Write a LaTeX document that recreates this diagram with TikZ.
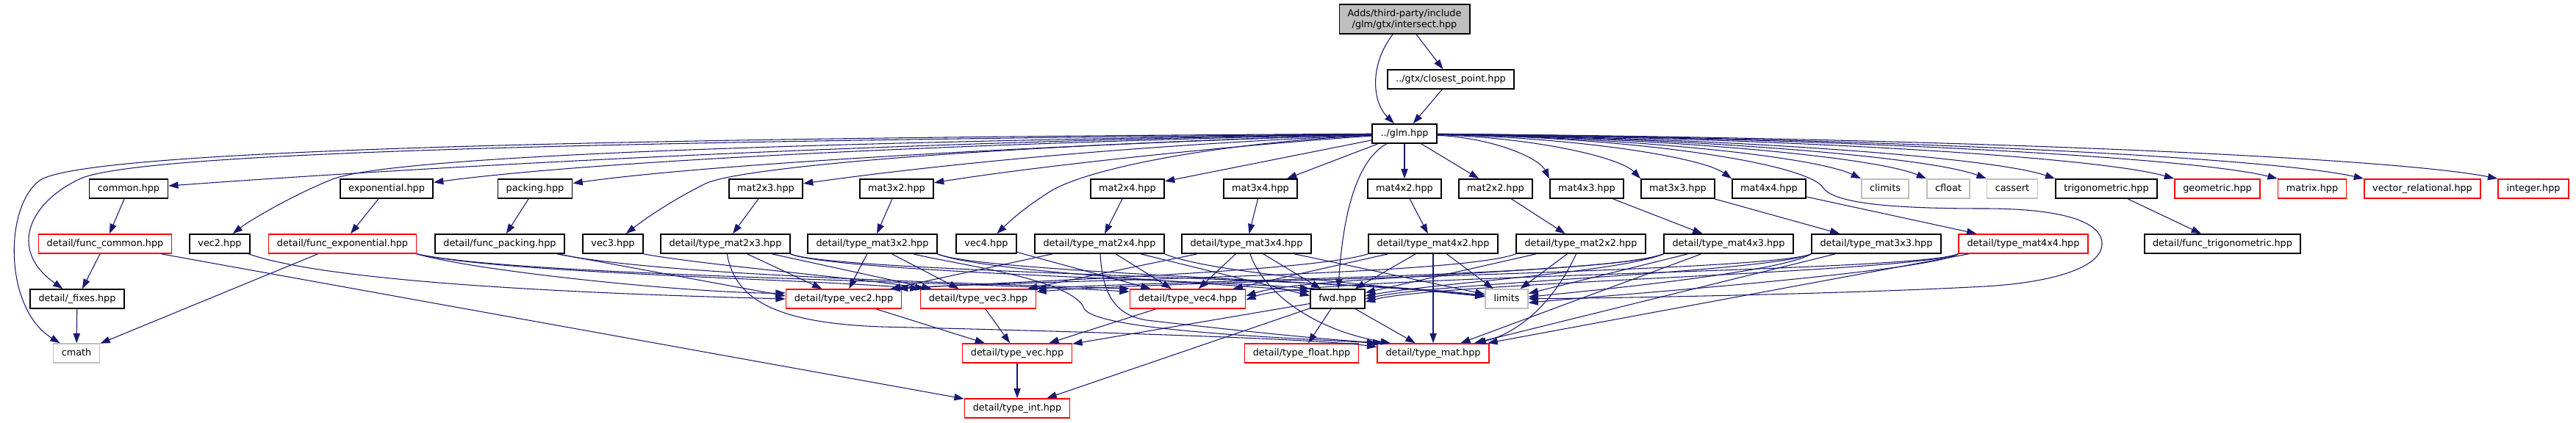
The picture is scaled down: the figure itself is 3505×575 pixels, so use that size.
\documentclass[tikz,border=0pt]{standalone}
\usepackage{fontspec}
\setmainfont{DejaVu Sans}
\usetikzlibrary{arrows.meta}
\definecolor{edgeblue}{HTML}{191970}
\definecolor{sysgray}{HTML}{BFBFBF}

\begin{document}
\begin{tikzpicture}[
        x=0.75pt, y=-0.75pt,
        font=\fontsize{9.6}{11.25}\selectfont,
        >={Triangle[length=10pt,width=7pt]},
        filebox/.style={
            draw=black,
            line width=1.2pt,
            fill=white,
            inner xsep=8.5pt,
            inner ysep=1pt,
            text height=7.2pt,
            text depth=2.2pt,
            minimum height=19.5pt
        },
        truncbox/.style={filebox, draw=red},
        sysbox/.style={filebox, draw=sysgray},
        rootbox/.style={
            filebox,
            fill=sysgray,
            align=center,
            text height=,
            text depth=,
            minimum height=30pt
        },
        inc/.style={
            ->,
            draw=edgeblue,
            line width=0.8pt
        }
    ]

    \useasboundingbox (0,0) rectangle (3505,575);

    % root and glm.hpp
    \node[rootbox] (root) at (1911,26) {Adds/third-party/include\\/glm/gtx/intersect.hpp};
    \node[filebox] (closest) at (1974,108) {../gtx/closest\_point.hpp};
    \node[filebox] (glm) at (1911,182) {../glm.hpp};

    % first row
    \node[filebox] (common) at (175,257) {common.hpp};
    \node[filebox] (exponential) at (526,257) {exponential.hpp};
    \node[filebox] (packing) at (728,257) {packing.hpp};
    \node[filebox] (mat23) at (1042,257) {mat2x3.hpp};
    \node[filebox] (mat32) at (1220,257) {mat3x2.hpp};
    \node[filebox] (mat24) at (1534,257) {mat2x4.hpp};
    \node[filebox] (mat34) at (1715,257) {mat3x4.hpp};
    \node[filebox] (mat42) at (1911,257) {mat4x2.hpp};
    \node[filebox] (mat22) at (2035,257) {mat2x2.hpp};
    \node[filebox] (mat43) at (2159,257) {mat4x3.hpp};
    \node[filebox] (mat33) at (2283,257) {mat3x3.hpp};
    \node[filebox] (mat44) at (2407,257) {mat4x4.hpp};
    \node[sysbox] (climits) at (2565,257) {climits};
    \node[sysbox] (cfloat) at (2651,257) {cfloat};
    \node[sysbox] (cassert) at (2738,257) {cassert};
    \node[filebox] (trig) at (2866,257) {trigonometric.hpp};
    \node[truncbox] (geom) at (3017,257) {geometric.hpp};
    \node[truncbox] (matr) at (3146,257) {matrix.hpp};
    \node[truncbox] (vrel) at (3296,257) {vector\_relational.hpp};
    \node[truncbox] (integer) at (3447,257) {integer.hpp};

    % second row
    \node[truncbox] (fcommon) at (143,332) {detail/func\_common.hpp};
    \node[filebox] (vec2) at (299,332) {vec2.hpp};
    \node[truncbox] (fexp) at (466,332) {detail/func\_exponential.hpp};
    \node[filebox] (fpack) at (680,332) {detail/func\_packing.hpp};
    \node[filebox] (vec3) at (834,332) {vec3.hpp};
    \node[filebox] (tmat23) at (987,332) {detail/type\_mat2x3.hpp};
    \node[filebox] (tmat32) at (1187,332) {detail/type\_mat3x2.hpp};
    \node[filebox] (vec4) at (1342,332) {vec4.hpp};
    \node[filebox] (tmat24) at (1496,332) {detail/type\_mat2x4.hpp};
    \node[filebox] (tmat34) at (1696,332) {detail/type\_mat3x4.hpp};
    \node[filebox] (tmat42) at (1950,332) {detail/type\_mat4x2.hpp};
    \node[filebox] (tmat22) at (2151,332) {detail/type\_mat2x2.hpp};
    \node[filebox] (tmat43) at (2352,332) {detail/type\_mat4x3.hpp};
    \node[filebox] (tmat33) at (2553,332) {detail/type\_mat3x3.hpp};
    \node[truncbox] (tmat44) at (2753,332) {detail/type\_mat4x4.hpp};
    \node[filebox] (ftrig) at (3024,332) {detail/func\_trigonometric.hpp};

    % third row
    \node[filebox] (fixes) at (105,407) {detail/\_fixes.hpp};
    \node[truncbox] (tvec2) at (1148,407) {detail/type\_vec2.hpp};
    \node[truncbox] (tvec3) at (1331,407) {detail/type\_vec3.hpp};
    \node[truncbox] (tvec4) at (1616,407) {detail/type\_vec4.hpp};
    \node[filebox] (fwd) at (1820,407) {fwd.hpp};
    \node[sysbox] (limits) at (2050,407) {limits};

    % bottom rows
    \node[sysbox] (cmath) at (104,481) {cmath};
    \node[truncbox] (tvec) at (1384,481) {detail/type\_vec.hpp};
    \node[truncbox] (tfloat) at (1771,481) {detail/type\_float.hpp};
    \node[truncbox] (tmat) at (1950,481) {detail/type\_mat.hpp};
    \node[truncbox] (tint) at (1384,556) {detail/type\_int.hpp};

    % root edges
    \draw[inc] (root) .. controls (1862,90) and (1868,140) .. (glm);
    \draw[inc] (root) -- (closest);
    \draw[inc] (closest) -- (glm);

    % glm.hpp, left half
    \draw[inc] (glm) .. controls (800,188) and (120,205) .. (55,245)
        .. controls (5,280) and (5,420) .. (cmath);
    \draw[inc] (glm) .. controls (900,192) and (200,205) .. (110,243)
        .. controls (40,275) and (10,340) .. (fixes);
    \draw[inc] (glm) .. controls (1200,193) and (600,226) .. (common);
    \draw[inc] (glm) .. controls (1000,195) and (520,215) .. (450,245)
        .. controls (400,265) and (340,300) .. (vec2);
    \draw[inc] (glm) .. controls (1300,195) and (800,220) .. (exponential);
    \draw[inc] (glm) .. controls (1400,198) and (950,225) .. (packing);
    \draw[inc] (glm) .. controls (1300,200) and (1000,230) .. (960,250)
        .. controls (910,275) and (875,300) .. (vec3);
    \draw[inc] (glm) .. controls (1500,200) and (1250,228) .. (mat23);
    \draw[inc] (glm) .. controls (1650,200) and (1400,228) .. (mat32);
    \draw[inc] (glm) .. controls (1650,195) and (1480,230) .. (1430,260)
        .. controls (1390,285) and (1370,305) .. (vec4);
    \draw[inc] (glm) -- (mat24);
    \draw[inc] (glm) -- (mat34);
    \draw[inc] (glm) .. controls (1835,225) and (1825,330) .. (fwd);
    \draw[inc] (glm) -- (mat42);
    \draw[inc] (glm) -- (mat22);

    % glm.hpp, right half
    \draw[inc] (glm) .. controls (2032,188) and (2094,215) .. (mat43.north west);
    \draw[inc] (glm) .. controls (2094,188) and (2205,215) .. (mat33.north west);
    \draw[inc] (glm) .. controls (2156,188) and (2317,215) .. (mat44.north west);
    \draw[inc] (glm) .. controls (2243,188) and (2474,215) .. (climits.north west);
    \draw[inc] (glm) .. controls (2288,188) and (2555,215) .. (cfloat.north west);
    \draw[inc] (glm) .. controls (2329,188) and (2629,215) .. (cassert.north west);
    \draw[inc] (glm) .. controls (2376,188) and (2713,215) .. (trig.north west);
    \draw[inc] (glm) .. controls (2457,188) and (2859,215) .. (geom.north west);
    \draw[inc] (glm) .. controls (2527,188) and (2985,215) .. (matr.north west);
    \draw[inc] (glm) .. controls (2585,188) and (3090,215) .. (vrel.north west);
    \draw[inc] (glm) .. controls (2677,188) and (3255,215) .. (integer.north west);
    \draw[inc] (glm) .. controls (2250,188) and (2460,225) .. (2480,255)
        .. controls (2495,278) and (2580,284) .. (2700,284)
        .. controls (2800,284) and (2860,300) .. (2860,332)
        .. controls (2860,365) and (2790,385) .. (2700,390)
        .. controls (2520,400) and (2200,406) .. (limits);

    % first row to second row
    \draw[inc] (common) -- (fcommon);
    \draw[inc] (exponential) -- (fexp);
    \draw[inc] (packing) -- (fpack);
    \draw[inc] (mat23) -- (tmat23);
    \draw[inc] (mat32) -- (tmat32);
    \draw[inc] (mat24) -- (tmat24);
    \draw[inc] (mat34) -- (tmat34);
    \draw[inc] (mat42) -- (tmat42);
    \draw[inc] (mat22) -- (tmat22);
    \draw[inc] (mat43) -- (tmat43);
    \draw[inc] (mat33) -- (tmat33);
    \draw[inc] (mat44) -- (tmat44);
    \draw[inc] (trig) -- (ftrig);

    % func headers and vecN.hpp
    \draw[inc] (fcommon) -- (fixes);
    \draw[inc] (fcommon) -- (tint);
    \draw[inc] (fixes) -- (cmath);
    \draw[inc] (fexp) -- (cmath);
    \draw[inc] (fexp.south east) .. controls (650,370) and (950,400) .. ([yshift=6pt]tvec2.west);
    \draw[inc] (fexp.south east) .. controls (680,372) and (1100,380) .. (tvec3.north west);
    \draw[inc] (fexp.south east) .. controls (700,375) and (1300,383) .. ([yshift=-3pt]tvec4.north west);
    \draw[inc] (fpack.-10) -- ([yshift=3pt]tvec2.west);
    \draw[inc] (fpack.-10) .. controls (900,375) and (1300,385) .. (tvec4.north west);
    \draw[inc] (vec2) .. controls (450,385) and (800,400) .. (tvec2.west);
    \draw[inc] (vec3.south east) .. controls (950,360) and (1180,380) .. ([xshift=5pt]tvec3.north west);
    \draw[inc] (vec4) -- (tvec4);

    % detail/type_mat2x3.hpp
    \draw[inc] (tmat23) -- (tvec2);
    \draw[inc] (tmat23) -- (tvec3);
    \draw[inc] (tmat23.south east) .. controls +(60,25) and +(-100,-10) .. (fwd.north west);
    \draw[inc] (tmat23.south east) .. controls +(60,25) and (1850,379) .. (limits);
    \draw[inc] (tmat23) .. controls (1000,410) and (1060,440) .. (1200,445)
        .. controls (1500,452) and (1800,462) .. ([yshift=-4pt]tmat.north west);

    % detail/type_mat3x2.hpp
    \draw[inc] (tmat32) -- (tvec2);
    \draw[inc] (tmat32) -- (tvec3);
    \draw[inc] (tmat32.south east) .. controls +(60,25) and +(-100,-10) .. ([yshift=-3pt]fwd.north west);
    \draw[inc] (tmat32.south east) .. controls +(60,25) and (1850,383) .. (limits);
    \draw[inc] (tmat32) .. controls (1300,360) and (1460,380) .. (1475,420)
        .. controls (1490,450) and (1750,460) .. (tmat.north west);

    % detail/type_mat2x4.hpp
    \draw[inc] (tmat24) -- (tvec2);
    \draw[inc] (tmat24) -- (tvec4);
    \draw[inc] (tmat24) -- ([yshift=-7pt]fwd.north west);
    \draw[inc] (tmat24.south east) .. controls +(60,25) and (1850,386) .. (limits);
    \draw[inc] (tmat24) .. controls (1500,390) and (1510,428) .. (1560,436)
        .. controls (1700,452) and (1800,462) .. ([xshift=6pt]tmat.north west);

    % detail/type_mat3x4.hpp
    \draw[inc] (tmat34) -- (tvec3);
    \draw[inc] (tmat34) -- (tvec4);
    \draw[inc] (tmat34) -- (fwd);
    \draw[inc] (tmat34) -- (limits);
    \draw[inc] (tmat34) .. controls (1720,400) and (1790,450) .. ([xshift=14pt]tmat.north west);

    % detail/type_mat4x2.hpp
    \draw[inc] (tmat42.south west) .. controls +(-80,25) and +(150,-10) .. ([xshift=-4pt]tvec2.north east);
    \draw[inc] (tmat42) -- (tvec4);
    \draw[inc] (tmat42) -- (fwd);
    \draw[inc] (tmat42) -- (tmat);
    \draw[inc] (tmat42) -- (limits);

    % detail/type_mat2x2.hpp
    \draw[inc] (tmat22.south west) .. controls +(-80,30) and +(200,-12) .. ([xshift=-12pt]tvec2.north east);
    \draw[inc] (tmat22) -- (fwd);
    \draw[inc] (tmat22) -- (limits);
    \draw[inc] (tmat22) .. controls (2110,420) and (2060,455) .. (tmat);

    % detail/type_mat4x3.hpp
    \draw[inc] (tmat43.south west) .. controls +(-80,30) and +(200,-12) .. (tvec3.north east);
    \draw[inc] (tmat43.south west) .. controls +(-60,25) and (1780,375) .. ([yshift=3pt]tvec4.east);
    \draw[inc] (tmat43.south west) .. controls +(-60,25) and (1956,385) .. ([yshift=3pt]fwd.east);
    \draw[inc] (tmat43) -- (limits);
    \draw[inc] (tmat43) -- (tmat);

    % detail/type_mat3x3.hpp
    \draw[inc] (tmat33.south west) .. controls +(-60,25) and +(200,-16) .. ([yshift=-3pt]tvec3.north east);
    \draw[inc] (tmat33.south west) .. controls +(-60,25) and (1956,385) .. (fwd.east);
    \draw[inc] (tmat33.south west) .. controls +(-40,25) and +(80,-8) .. ([yshift=2pt]limits.east);
    \draw[inc] (tmat33) -- (tmat);

    % detail/type_mat4x4.hpp
    \draw[inc] (tmat44.south west) .. controls +(-60,25) and (1780,375) .. ([yshift=-1pt]tvec4.east);
    \draw[inc] (tmat44.south west) .. controls +(-60,25) and (1956,385) .. ([yshift=-3pt]fwd.east);
    \draw[inc] (tmat44.south west) .. controls +(-40,25) and +(80,-8) .. ([yshift=-4pt]limits.east);
    \draw[inc] (tmat44) -- (tmat);

    % vector types, fwd.hpp
    \draw[inc] (tvec2) -- (tvec);
    \draw[inc] (tvec3) -- (tvec);
    \draw[inc] (tvec4) -- (tvec);
    \draw[inc] (fwd) -- (tvec);
    \draw[inc] (fwd) -- (tint);
    \draw[inc] (fwd) -- (tfloat);
    \draw[inc] (fwd) -- (tmat);
    \draw[inc] (tvec) -- (tint);

\end{tikzpicture}
\end{document}
